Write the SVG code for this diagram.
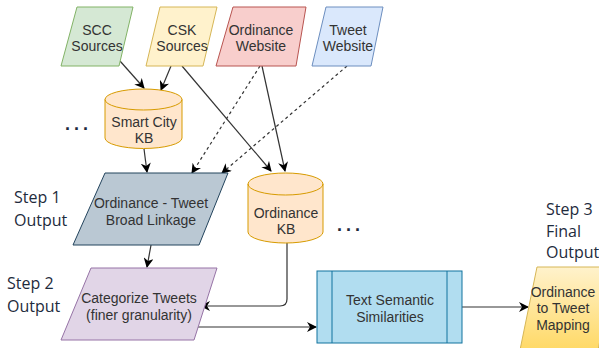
<svg xmlns="http://www.w3.org/2000/svg" width="599" height="348" viewBox="0 0 599 348">
<style>
.lbl{font-family:"Liberation Sans",Arial,sans-serif;font-size:14px;fill:#333;text-anchor:middle}
.step{font-family:"Open Sans","Liberation Sans",sans-serif;font-size:16px;fill:#1e2b3c}
.dots{font-family:"Liberation Sans",Arial,sans-serif;font-size:18px;font-weight:bold;fill:#1e2b3c;letter-spacing:4px}
.c{fill:none;stroke:#333;stroke-width:1.2}
.d{fill:none;stroke:#333;stroke-width:1.2;stroke-dasharray:3 3}
</style>
<defs>
<marker id="ah" viewBox="0 0 10 10" refX="9" refY="5" markerWidth="10" markerHeight="10" markerUnits="userSpaceOnUse" orient="auto">
<path d="M0,0 L10,5 L0,10 L3,5 Z" fill="#000"/>
</marker>
<linearGradient id="yg" x1="0" y1="0" x2="0" y2="1">
<stop offset="0" stop-color="#fff2cc"/>
<stop offset="1" stop-color="#ffd966"/>
</linearGradient>
</defs>
<g id="connectors">
<path class="c" d="M120,61 L144,88" marker-end="url(#ah)"/>
<path class="c" d="M171,66 L161,90" marker-end="url(#ah)"/>
<path class="c" d="M182,66 L271,171" marker-end="url(#ah)"/>
<path class="c" d="M262,66 L285,171" marker-end="url(#ah)"/>
<path class="d" d="M260,66 L192,173" marker-end="url(#ah)"/>
<path class="d" d="M347,66 L222,173" marker-end="url(#ah)"/>
<path class="c" d="M144,149 L147,172" marker-end="url(#ah)"/>
<path class="c" d="M151,245 L147,267" marker-end="url(#ah)"/>
<path class="c" d="M287,243 V299 Q287,306 280,306 H201" marker-end="url(#ah)"/>
<path class="c" d="M195,327 H316" marker-end="url(#ah)"/>
<path class="c" d="M462,307 H528" marker-end="url(#ah)"/>
</g>
<g id="scc">
<polygon points="77,7 133,7 119,66 61,66" fill="#d5e8d4" stroke="#82b366"/>
<text class="lbl" x="97" y="35">SCC</text>
<text class="lbl" x="97" y="51">Sources</text>
</g>
<g id="csk">
<polygon points="160,7 217,7 203,66 146,66" fill="#fff2cc" stroke="#d6b656"/>
<text class="lbl" x="182" y="35">CSK</text>
<text class="lbl" x="182" y="51">Sources</text>
</g>
<g id="ordweb">
<polygon points="233,7 306,7 296,66 216,66" fill="#f8cecc" stroke="#b85450"/>
<text class="lbl" x="261" y="35">Ordinance</text>
<text class="lbl" x="261" y="51">Website</text>
</g>
<g id="tweetweb">
<polygon points="326,7 383,7 371,66 312,66" fill="#dae8fc" stroke="#6c8ebf"/>
<text class="lbl" x="348" y="35">Tweet</text>
<text class="lbl" x="348" y="51">Website</text>
</g>
<g id="smartcity">
<path d="M105,99.5 A38.5,10.5 0 0 1 182,99.5 V138 A38.5,10.5 0 0 1 105,138 Z" fill="#ffe6cc" stroke="#d79b00"/>
<path d="M105,99.5 A38.5,10.5 0 0 0 182,99.5" fill="none" stroke="#d79b00"/>
<text class="lbl" x="144" y="127">Smart City</text>
<text class="lbl" x="144" y="143">KB</text>
</g>
<text class="dots" x="65" y="130">...</text>
<g id="linkage">
<polygon points="105,173 228,173 199,245 73,245" fill="#bac8d3" stroke="#23445d"/>
<text class="lbl" x="151" y="208">Ordinance - Tweet</text>
<text class="lbl" x="151" y="225">Broad Linkage</text>
</g>
<g id="ordkb">
<path d="M248,184 A37.5,11 0 0 1 323,184 V232 A37.5,11 0 0 1 248,232 Z" fill="#ffe6cc" stroke="#d79b00"/>
<path d="M248,184 A37.5,11 0 0 0 323,184" fill="none" stroke="#d79b00"/>
<text class="lbl" x="286" y="218">Ordinance</text>
<text class="lbl" x="286" y="234">KB</text>
</g>
<text class="dots" x="337" y="231">...</text>
<g id="categorize">
<polygon points="91,268 217,268 194,340 61,340" fill="#e1d5e7" stroke="#9673a6"/>
<text class="lbl" x="139" y="303">Categorize Tweets</text>
<text class="lbl" x="139" y="320">(finer granularity)</text>
</g>
<g id="semantic">
<rect x="317" y="271" width="145" height="72" fill="#b1ddf0" stroke="#10739e"/>
<line x1="332" y1="271" x2="332" y2="343" stroke="#10739e"/>
<line x1="447" y1="271" x2="447" y2="343" stroke="#10739e"/>
<text class="lbl" x="390" y="305">Text Semantic</text>
<text class="lbl" x="390" y="322">Similarities</text>
</g>
<g id="mapping">
<polygon points="537,267 615,267 598,350 520,350" fill="url(#yg)" stroke="#d6b656"/>
<text class="lbl" x="563" y="297">Ordinance</text>
<text class="lbl" x="563" y="313">to Tweet</text>
<text class="lbl" x="563" y="330">Mapping</text>
</g>
<g id="steps">
<text class="step" x="14" y="203">Step 1</text>
<text class="step" x="14" y="226">Output</text>
<text class="step" x="7" y="289">Step 2</text>
<text class="step" x="7" y="312">Output</text>
<text class="step" x="546" y="215">Step 3</text>
<text class="step" x="546" y="237">Final</text>
<text class="step" x="546" y="258">Output</text>
</g>
</svg>
